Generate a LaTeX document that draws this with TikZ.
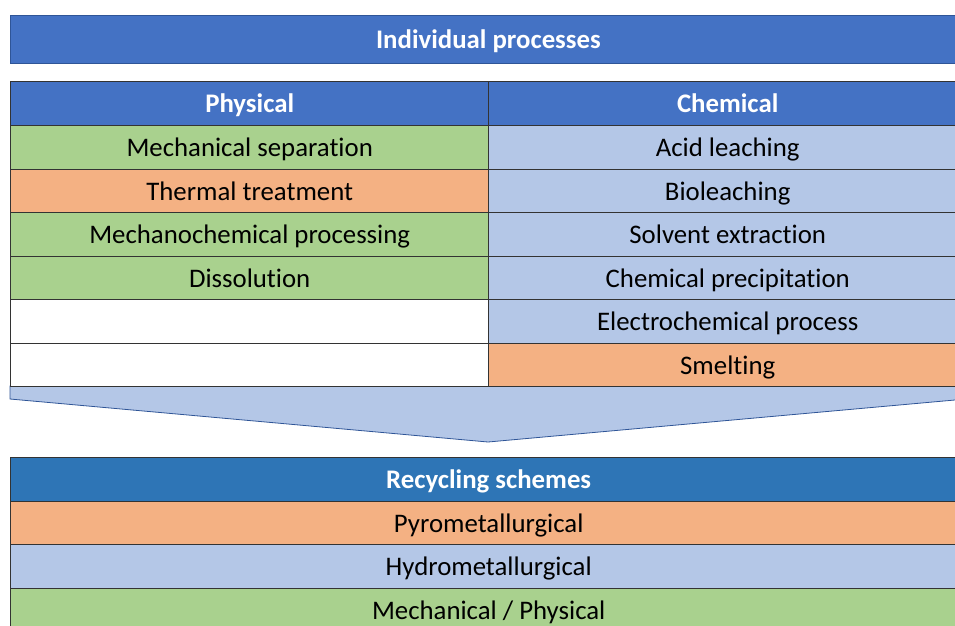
\documentclass[tikz,border=0pt]{standalone}
\usepackage{fontspec}
\setmainfont{Carlito}[Ligatures=NoCommon]
\usepackage{xcolor}
\usepackage{tikz}
\usetikzlibrary{positioning}

\definecolor{hdblue}{HTML}{4472C4}
\definecolor{rsblue}{HTML}{2E75B6}
\definecolor{ltblue}{HTML}{B4C7E7}
\definecolor{ltgreen}{HTML}{A9D18E}
\definecolor{ltorange}{HTML}{F4B183}
\definecolor{edgeblue}{HTML}{2F5597}

\begin{document}
\begin{tikzpicture}[x=1pt,y=-1pt,line join=miter,
    cell/.style={draw=black!80, line width=1.4pt, rectangle, anchor=north west,
        minimum width=478pt, minimum height=43.5pt, inner sep=0pt,
        text height=20pt, text depth=1.5pt,
        font=\fontsize{26.8}{30}\selectfont, text=black},
    wide/.style={cell, minimum width=956pt},
    head/.style={fill=hdblue, text=white, font=\fontsize{26.8}{30}\selectfont\bfseries},
    grn/.style={fill=ltgreen},
    org/.style={fill=ltorange},
    blu/.style={fill=ltblue},
    wht/.style={fill=white}]
    \useasboundingbox (0,0) rectangle (955,625);
    \clip (0,0) rectangle (955,625);
    % banner
    \node[wide, head, draw=edgeblue, line width=0.8pt, minimum height=48pt] (ind) at (10, 15) {Individual processes};
    % arrow down
    \fill[ltblue, draw=edgeblue, line width=0.8pt] (10, 386) -- (10, 399) -- (488, 442) -- (966, 399) -- (966, 386) -- cycle;
    % upper table
    \node[cell, head] (phys) at (10, 81) {Physical};
    \node[cell, head] (chem) at (488, 81) {Chemical};
    \node[cell, grn] (mech) at (10, 125) {Mechanical separation};
    \node[cell, org] (therm) at (10, 168.5) {Thermal treatment};
    \node[cell, grn] (mchem) at (10, 212) {Mechanochemical processing};
    \node[cell, grn] (diss) at (10, 255.5) {Dissolution};
    \node[cell, wht] (emptya) at (10, 299) {};
    \node[cell, wht] (emptyb) at (10, 342.5) {};
    \node[cell, blu] (acid) at (488, 125) {Acid leaching};
    \node[cell, blu] (bio) at (488, 168.5) {Bioleaching};
    \node[cell, blu] (solv) at (488, 212) {Solvent extraction};
    \node[cell, blu] (prec) at (488, 255.5) {Chemical precipitation};
    \node[cell, blu] (elec) at (488, 299) {Electrochemical process};
    \node[cell, org] (smelt) at (488, 342.5) {Smelting};
    % lower table
    \node[wide, head, fill=rsblue] (rec) at (10, 457) {Recycling schemes};
    \node[wide, org] (pyro) at (10, 500.5) {Pyrometallurgical};
    \node[wide, blu] (hydro) at (10, 544) {Hydrometallurgical};
    \node[wide, grn] (mphys) at (10, 587.5) {Mechanical / Physical};
\end{tikzpicture}
\end{document}
